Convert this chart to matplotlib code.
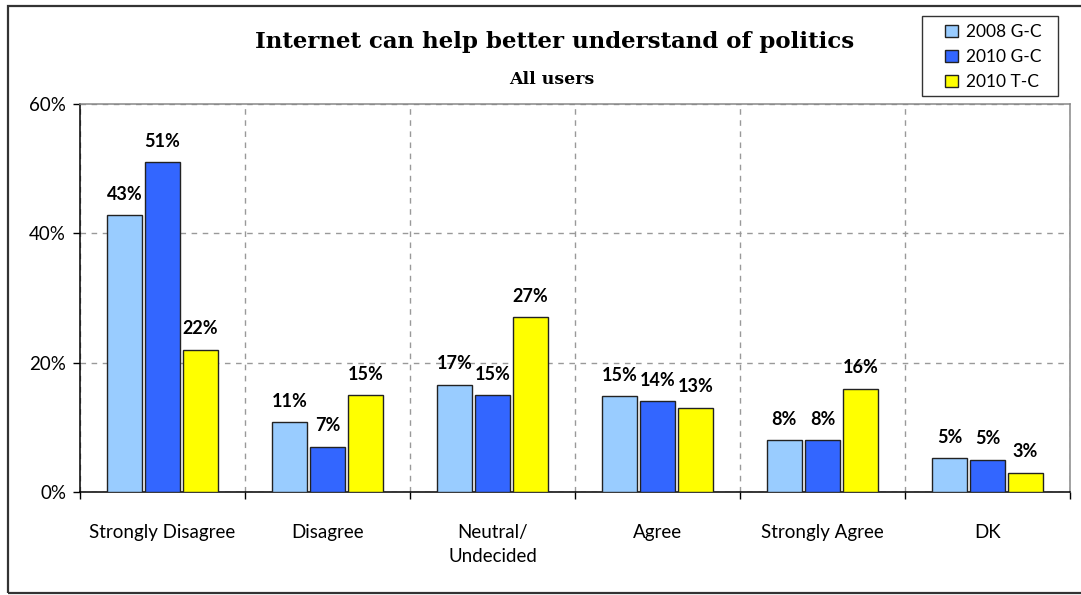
import numpy as np
import matplotlib.pyplot as plt
from matplotlib.patches import Rectangle

# -----------------------------------
# Data
# -----------------------------------

categories = ["Strongly Disagree", "Disagree", "Neutral/\nUndecided",
              "Agree", "Strongly Agree", "DK"]
series_names = ["2008 G-C", "2010 G-C", "2010 T-C"]

g2008 = [42.8, 10.8, 16.6, 14.8, 8.0, 5.2]
g2010 = [51.0, 7.0, 15.0, 14.0, 8.0, 5.0]
t2010 = [22.0, 15.0, 27.0, 13.0, 16.0, 3.0]

colors = ["#99CCFF", "#3366FF", "#FFFF00"]

# -----------------------------------
# Figure
# -----------------------------------

plt.rcParams['font.family'] = ['Lato', 'DejaVu Sans']

W, H = 1081, 595
fig = plt.figure(figsize=(W/100, H/100), dpi=100)
ax = fig.add_axes([80/W, 1-492/H, 990/W, 388/H])

# outer chart frame (right edge runs off the picture)
fig.patches.append(Rectangle((8/W, 2/H), 1.05, 587/H, transform=fig.transFigure,
                             fill=False, edgecolor="#333333", linewidth=1.6))

# legend frame (drawn by hand for the wider padding)
fig.patches.append(Rectangle((922/W, 1-96/H), 136/W, 80/H, transform=fig.transFigure,
                             facecolor="white", edgecolor="#333333", linewidth=1.0))

x = np.arange(len(categories))
width = 0.213
gap = 0.018

for i, (vals, name, c) in enumerate(zip([g2008, g2010, t2010], series_names, colors)):
    pos = x + (i - 1) * (width + gap)
    bars = ax.bar(pos, vals, width, color=c, edgecolor="#222222",
                  linewidth=1.0, label=name, zorder=3)
    for b, v in zip(bars, vals):
        ax.annotate(f"{round(v)}%", (b.get_x() + b.get_width()/2, v),
                    xytext=(0, 9), textcoords="offset points",
                    ha="center", va="bottom", fontsize=13,
                    fontweight="bold", color="black")

ax.set_xlim(-0.5, len(categories) - 0.5)
ax.set_ylim(0, 60)

ax.set_yticks([0, 20, 40, 60])
ax.set_yticklabels(["0%", "20%", "40%", "60%"], fontsize=13.5)
ax.tick_params(axis="y", length=5, width=1, direction="out", pad=5)

ax.set_xticks(x)
ax.set_xticklabels(categories, fontsize=13.5, linespacing=1.5)
ax.tick_params(axis="x", which="major", length=0, pad=23)
ax.set_xticks(np.arange(len(categories) + 1) - 0.5, minor=True)
ax.tick_params(axis="x", which="minor", length=5, width=1, direction="out")

ax.grid(axis="y", which="major", linestyle=(0, (4, 4)), color="#999999", linewidth=1, zorder=0)
ax.grid(axis="x", which="minor", linestyle=(0, (4, 4)), color="#999999", linewidth=1, zorder=0)

for s in ["left", "bottom"]:
    ax.spines[s].set_color("black")
    ax.spines[s].set_linewidth(1.1)
for s in ["top", "right"]:
    ax.spines[s].set_color("#888888")
    ax.spines[s].set_linewidth(1.1)

fig.text(555/W, 1-42/H, "Internet can help better understand of politics",
         ha="center", va="center", fontsize=16.5, fontweight="bold",
         family="DejaVu Serif")
fig.text(552/W, 1-80/H, "All users", ha="center", va="center",
         fontsize=12.5, fontweight="bold", family="DejaVu Serif")

leg = fig.legend(loc="upper left", bbox_to_anchor=(945/W, 1-24/H),
                 fontsize=12.5, frameon=False,
                 handlelength=0.75, handleheight=0.75, handletextpad=0.45,
                 labelspacing=0.52, borderpad=0, borderaxespad=0)

fig.savefig("out.png", dpi=100)
